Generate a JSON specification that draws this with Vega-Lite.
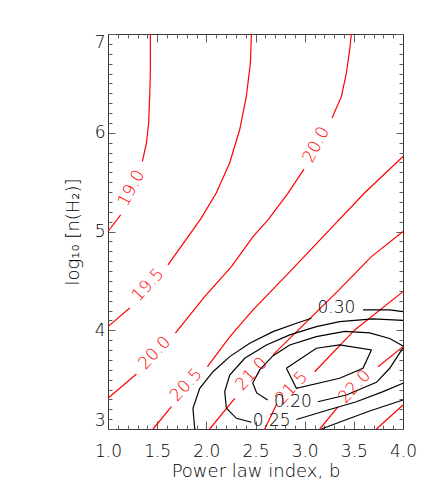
{
  "$schema": "https://vega.github.io/schema/vega-lite/v6.json",
  "width": 295,
  "height": 395,
  "autosize": {"type": "none"},
  "padding": {"left": 108, "top": 34, "right": 33, "bottom": 69},
  "config": {
    "view": {"stroke": null},
    "font": "DejaVu Sans",
    "axis": {
      "grid": false,
      "domainColor": "#383838",
      "domainWidth": 1,
      "tickColor": "#606060",
      "tickWidth": 1,
      "labelColor": "#000000",
      "titleColor": "#000000",
      "labelFont": "DejaVu Sans",
      "titleFont": "DejaVu Sans",
      "labelFontSize": 17,
      "labelFontWeight": 200,
      "titleFontSize": 18,
      "titleFontWeight": 200,
      "labelOverlap": false
    }
  },
  "datasets": {
    "nh": [
      {"level": "19.0", "seg": "19.0a", "i": 0, "b": 1.431, "logn": 7.0},
      {"level": "19.0", "seg": "19.0a", "i": 1, "b": 1.431, "logn": 6.709},
      {"level": "19.0", "seg": "19.0a", "i": 2, "b": 1.429, "logn": 6.537},
      {"level": "19.0", "seg": "19.0a", "i": 3, "b": 1.424, "logn": 6.368},
      {"level": "19.0", "seg": "19.0a", "i": 4, "b": 1.414, "logn": 6.101},
      {"level": "19.0", "seg": "19.0a", "i": 5, "b": 1.391, "logn": 5.898},
      {"level": "19.0", "seg": "19.0a", "i": 6, "b": 1.350, "logn": 5.709},
      {"level": "19.0", "seg": "19.0b", "i": 0, "b": 1.129, "logn": 5.169},
      {"level": "19.0", "seg": "19.0b", "i": 1, "b": 1.0, "logn": 5.0},
      {"level": "19.5", "seg": "19.5a", "i": 0, "b": 2.458, "logn": 7.0},
      {"level": "19.5", "seg": "19.5a", "i": 1, "b": 2.448, "logn": 6.706},
      {"level": "19.5", "seg": "19.5a", "i": 2, "b": 2.407, "logn": 6.368},
      {"level": "19.5", "seg": "19.5a", "i": 3, "b": 2.339, "logn": 6.030},
      {"level": "19.5", "seg": "19.5a", "i": 4, "b": 2.238, "logn": 5.696},
      {"level": "19.5", "seg": "19.5a", "i": 5, "b": 2.102, "logn": 5.392},
      {"level": "19.5", "seg": "19.5a", "i": 6, "b": 1.950, "logn": 5.138},
      {"level": "19.5", "seg": "19.5a", "i": 7, "b": 1.864, "logn": 5.017},
      {"level": "19.5", "seg": "19.5a", "i": 8, "b": 1.610, "logn": 4.662},
      {"level": "19.5", "seg": "19.5b", "i": 0, "b": 1.221, "logn": 4.226},
      {"level": "19.5", "seg": "19.5b", "i": 1, "b": 1.0, "logn": 4.037},
      {"level": "20.0", "seg": "20.0a", "i": 0, "b": 3.475, "logn": 7.0},
      {"level": "20.0", "seg": "20.0a", "i": 1, "b": 3.458, "logn": 6.841},
      {"level": "20.0", "seg": "20.0a", "i": 2, "b": 3.424, "logn": 6.605},
      {"level": "20.0", "seg": "20.0a", "i": 3, "b": 3.374, "logn": 6.368},
      {"level": "20.0", "seg": "20.0a", "i": 4, "b": 3.278, "logn": 6.149},
      {"level": "20.0", "seg": "20.0b", "i": 0, "b": 2.993, "logn": 5.632},
      {"level": "20.0", "seg": "20.0b", "i": 1, "b": 2.831, "logn": 5.389},
      {"level": "20.0", "seg": "20.0b", "i": 2, "b": 2.627, "logn": 5.118},
      {"level": "20.0", "seg": "20.0b", "i": 3, "b": 2.475, "logn": 4.949},
      {"level": "20.0", "seg": "20.0b", "i": 4, "b": 2.255, "logn": 4.645},
      {"level": "20.0", "seg": "20.0b", "i": 5, "b": 1.983, "logn": 4.341},
      {"level": "20.0", "seg": "20.0b", "i": 6, "b": 1.685, "logn": 3.970},
      {"level": "20.0", "seg": "20.0c", "i": 0, "b": 1.289, "logn": 3.557},
      {"level": "20.0", "seg": "20.0c", "i": 1, "b": 1.0, "logn": 3.311},
      {"level": "20.5", "seg": "20.5a", "i": 0, "b": 4.0, "logn": 5.760},
      {"level": "20.5", "seg": "20.5a", "i": 1, "b": 3.611, "logn": 5.392},
      {"level": "20.5", "seg": "20.5a", "i": 2, "b": 3.221, "logn": 4.983},
      {"level": "20.5", "seg": "20.5a", "i": 3, "b": 2.848, "logn": 4.591},
      {"level": "20.5", "seg": "20.5a", "i": 4, "b": 2.475, "logn": 4.206},
      {"level": "20.5", "seg": "20.5a", "i": 5, "b": 2.238, "logn": 3.932},
      {"level": "20.5", "seg": "20.5a", "i": 6, "b": 2.011, "logn": 3.631},
      {"level": "20.5", "seg": "20.5b", "i": 0, "b": 1.645, "logn": 3.226},
      {"level": "20.5", "seg": "20.5b", "i": 1, "b": 1.458, "logn": 3.0},
      {"level": "21.0", "seg": "21.0a", "i": 0, "b": 4.0, "logn": 5.0},
      {"level": "21.0", "seg": "21.0a", "i": 1, "b": 3.679, "logn": 4.746},
      {"level": "21.0", "seg": "21.0a", "i": 2, "b": 3.339, "logn": 4.398},
      {"level": "21.0", "seg": "21.0a", "i": 3, "b": 2.678, "logn": 3.750},
      {"level": "21.0", "seg": "21.0b", "i": 0, "b": 2.289, "logn": 3.311},
      {"level": "21.0", "seg": "21.0b", "i": 1, "b": 2.034, "logn": 3.0},
      {"level": "21.5", "seg": "21.5a", "i": 0, "b": 4.0, "logn": 4.391},
      {"level": "21.5", "seg": "21.5a", "i": 1, "b": 3.509, "logn": 4.003},
      {"level": "21.5", "seg": "21.5a", "i": 2, "b": 3.102, "logn": 3.580},
      {"level": "21.5", "seg": "21.5b", "i": 0, "b": 2.716, "logn": 3.253},
      {"level": "21.5", "seg": "21.5b", "i": 1, "b": 2.594, "logn": 3.0},
      {"level": "22.0", "seg": "22.0a", "i": 0, "b": 4.0, "logn": 3.834},
      {"level": "22.0", "seg": "22.0a", "i": 1, "b": 3.746, "logn": 3.631},
      {"level": "22.0", "seg": "22.0b", "i": 0, "b": 3.339, "logn": 3.223},
      {"level": "22.0", "seg": "22.0b", "i": 1, "b": 3.153, "logn": 3.0},
      {"level": "22.5", "seg": "22.5a", "i": 0, "b": 4.0, "logn": 3.243},
      {"level": "22.5", "seg": "22.5a", "i": 1, "b": 3.730, "logn": 3.0}
    ],
    "ratio": [
      {"level": "0.30", "seg": "0.30a", "i": 0, "b": 1.882, "logn": 3.0},
      {"level": "0.30", "seg": "0.30a", "i": 1, "b": 1.864, "logn": 3.210},
      {"level": "0.30", "seg": "0.30a", "i": 2, "b": 1.933, "logn": 3.412},
      {"level": "0.30", "seg": "0.30a", "i": 3, "b": 2.068, "logn": 3.580},
      {"level": "0.30", "seg": "0.30a", "i": 4, "b": 2.238, "logn": 3.733},
      {"level": "0.30", "seg": "0.30a", "i": 5, "b": 2.441, "logn": 3.868},
      {"level": "0.30", "seg": "0.30a", "i": 6, "b": 2.678, "logn": 3.986},
      {"level": "0.30", "seg": "0.30a", "i": 7, "b": 2.916, "logn": 4.071},
      {"level": "0.30", "seg": "0.30a", "i": 8, "b": 3.069, "logn": 4.122},
      {"level": "0.30", "seg": "0.30b", "i": 0, "b": 3.593, "logn": 4.206},
      {"level": "0.30", "seg": "0.30b", "i": 1, "b": 3.865, "logn": 4.206},
      {"level": "0.30", "seg": "0.30b", "i": 2, "b": 4.0, "logn": 4.189},
      {"level": "0.30", "seg": "0.30c", "i": 0, "b": 3.170, "logn": 3.0},
      {"level": "0.30", "seg": "0.30c", "i": 1, "b": 3.407, "logn": 3.089},
      {"level": "0.30", "seg": "0.30c", "i": 2, "b": 3.661, "logn": 3.182},
      {"level": "0.30", "seg": "0.30c", "i": 3, "b": 4.0, "logn": 3.294},
      {"level": "0.25", "seg": "0.25a", "i": 0, "b": 4.0, "logn": 4.099},
      {"level": "0.25", "seg": "0.25a", "i": 1, "b": 3.695, "logn": 4.115},
      {"level": "0.25", "seg": "0.25a", "i": 2, "b": 3.356, "logn": 4.087},
      {"level": "0.25", "seg": "0.25a", "i": 3, "b": 3.119, "logn": 4.037},
      {"level": "0.25", "seg": "0.25a", "i": 4, "b": 2.848, "logn": 3.953},
      {"level": "0.25", "seg": "0.25a", "i": 5, "b": 2.611, "logn": 3.851},
      {"level": "0.25", "seg": "0.25a", "i": 6, "b": 2.390, "logn": 3.716},
      {"level": "0.25", "seg": "0.25a", "i": 7, "b": 2.238, "logn": 3.547},
      {"level": "0.25", "seg": "0.25a", "i": 8, "b": 2.187, "logn": 3.378},
      {"level": "0.25", "seg": "0.25a", "i": 9, "b": 2.204, "logn": 3.210},
      {"level": "0.25", "seg": "0.25a", "i": 10, "b": 2.306, "logn": 3.108},
      {"level": "0.25", "seg": "0.25a", "i": 11, "b": 2.458, "logn": 3.068},
      {"level": "0.25", "seg": "0.25b", "i": 0, "b": 2.916, "logn": 3.096},
      {"level": "0.25", "seg": "0.25b", "i": 1, "b": 3.187, "logn": 3.177},
      {"level": "0.25", "seg": "0.25b", "i": 2, "b": 3.526, "logn": 3.276},
      {"level": "0.25", "seg": "0.25b", "i": 3, "b": 3.797, "logn": 3.378},
      {"level": "0.25", "seg": "0.25b", "i": 4, "b": 4.0, "logn": 3.463},
      {"level": "0.20", "seg": "0.20a", "i": 0, "b": 4.0, "logn": 3.841},
      {"level": "0.20", "seg": "0.20a", "i": 1, "b": 3.865, "logn": 3.917},
      {"level": "0.20", "seg": "0.20a", "i": 2, "b": 3.661, "logn": 3.973},
      {"level": "0.20", "seg": "0.20a", "i": 3, "b": 3.407, "logn": 3.988},
      {"level": "0.20", "seg": "0.20a", "i": 4, "b": 3.119, "logn": 3.935},
      {"level": "0.20", "seg": "0.20a", "i": 5, "b": 2.848, "logn": 3.851},
      {"level": "0.20", "seg": "0.20a", "i": 6, "b": 2.676, "logn": 3.740},
      {"level": "0.20", "seg": "0.20a", "i": 7, "b": 2.543, "logn": 3.598},
      {"level": "0.20", "seg": "0.20a", "i": 8, "b": 2.472, "logn": 3.466},
      {"level": "0.20", "seg": "0.20a", "i": 9, "b": 2.512, "logn": 3.365},
      {"level": "0.20", "seg": "0.20a", "i": 10, "b": 2.624, "logn": 3.294},
      {"level": "0.20", "seg": "0.20b", "i": 0, "b": 3.133, "logn": 3.276},
      {"level": "0.20", "seg": "0.20b", "i": 1, "b": 3.424, "logn": 3.344},
      {"level": "0.20", "seg": "0.20b", "i": 2, "b": 3.730, "logn": 3.473},
      {"level": "0.20", "seg": "0.20b", "i": 3, "b": 3.865, "logn": 3.615},
      {"level": "0.20", "seg": "0.20b", "i": 4, "b": 4.0, "logn": 3.821},
      {"level": "0.15", "seg": "0.15a", "i": 0, "b": 2.814, "logn": 3.615},
      {"level": "0.15", "seg": "0.15a", "i": 1, "b": 3.119, "logn": 3.818},
      {"level": "0.15", "seg": "0.15a", "i": 2, "b": 3.356, "logn": 3.851},
      {"level": "0.15", "seg": "0.15a", "i": 3, "b": 3.679, "logn": 3.800},
      {"level": "0.15", "seg": "0.15a", "i": 4, "b": 3.593, "logn": 3.615},
      {"level": "0.15", "seg": "0.15a", "i": 5, "b": 3.356, "logn": 3.514},
      {"level": "0.15", "seg": "0.15a", "i": 6, "b": 2.916, "logn": 3.412},
      {"level": "0.15", "seg": "0.15a", "i": 7, "b": 2.814, "logn": 3.615}
    ],
    "nh_labels_steep": [
      {"level": "19.0", "b": 1.238, "logn": 5.439},
      {"level": "20.0", "b": 3.119, "logn": 5.878}
    ],
    "nh_labels_diag": [
      {"level": "19.5", "b": 1.407, "logn": 4.459},
      {"level": "20.0", "b": 1.475, "logn": 3.770},
      {"level": "20.5", "b": 1.797, "logn": 3.446},
      {"level": "21.0", "b": 2.461, "logn": 3.557},
      {"level": "21.5", "b": 2.868, "logn": 3.415},
      {"level": "22.0", "b": 3.509, "logn": 3.429}
    ],
    "ratio_labels": [
      {"level": "0.30", "b": 3.323, "logn": 4.223},
      {"level": "0.20", "b": 2.881, "logn": 3.270},
      {"level": "0.25", "b": 2.665, "logn": 3.081}
    ]
  },
  "layer": [
    {
      "data": {"name": "nh"},
      "mark": {"type": "line", "color": "#ff0000", "strokeWidth": 1.2},
      "encoding": {
        "x": {"field": "b", "type": "quantitative", "scale": {"domain": [1, 4], "nice": false, "zero": false},
          "axis": {"orient": "bottom", "values": [1, 1.5, 2, 2.5, 3, 3.5, 4], "format": ".1f", "tickSize": -8, "labelPadding": 22, "labelFlush": false, "title": "Power law index, b", "titlePadding": 3, "domain": true}},
        "y": {"field": "logn", "type": "quantitative", "scale": {"domain": [3, 7], "nice": false, "zero": false},
          "axis": {"orient": "left", "values": [3, 4, 5, 6, 7], "format": "d", "tickSize": -7, "labelPadding": 10, "labelFlush": true, "title": "log₁₀ [n(H₂)]", "titlePadding": 12, "domain": true}},
        "detail": {"field": "seg"},
        "order": {"field": "i", "type": "quantitative"}
      }
    },
    {
      "data": {"name": "ratio"},
      "mark": {"type": "line", "color": "#000000", "strokeWidth": 1.2},
      "encoding": {
        "x": {"field": "b", "type": "quantitative", "scale": {"domain": [1, 4], "nice": false, "zero": false},
          "axis": {"orient": "top", "values": [1, 1.5, 2, 2.5, 3, 3.5, 4], "labels": false, "tickSize": -8, "title": null, "domain": true}},
        "y": {"field": "logn", "type": "quantitative", "scale": {"domain": [3, 7], "nice": false, "zero": false},
          "axis": {"orient": "right", "values": [3, 4, 5, 6, 7], "labels": false, "tickSize": -7, "title": null, "domain": true}},
        "detail": {"field": "seg"},
        "order": {"field": "i", "type": "quantitative"}
      }
    },
    {
      "data": {"name": "nh_labels_steep"},
      "mark": {"type": "text", "color": "#ff0000", "font": "DejaVu Sans", "fontSize": 17, "fontWeight": 200, "angle": -62, "align": "center", "baseline": "middle"},
      "encoding": {
        "x": {"field": "b", "type": "quantitative", "scale": {"domain": [1, 4], "nice": false, "zero": false},
          "axis": {"orient": "bottom", "values": [1.1,1.2,1.3,1.4,1.6,1.7,1.8,1.9,2.1,2.2,2.3,2.4,2.6,2.7,2.8,2.9,3.1,3.2,3.3,3.4,3.6,3.7,3.8,3.9], "labels": false, "domain": false, "tickSize": -4, "title": null}},
        "y": {"field": "logn", "type": "quantitative", "scale": {"domain": [3, 7], "nice": false, "zero": false},
          "axis": {"orient": "left", "values": [3.1,3.2,3.3,3.4,3.5,3.6,3.7,3.8,3.9,4.1,4.2,4.3,4.4,4.5,4.6,4.7,4.8,4.9,5.1,5.2,5.3,5.4,5.5,5.6,5.7,5.8,5.9,6.1,6.2,6.3,6.4,6.5,6.6,6.7,6.8,6.9], "labels": false, "domain": false, "tickSize": -4, "title": null}},
        "text": {"field": "level"}
      }
    },
    {
      "data": {"name": "nh_labels_diag"},
      "mark": {"type": "text", "color": "#ff0000", "font": "DejaVu Sans", "fontSize": 17, "fontWeight": 200, "angle": -47, "align": "center", "baseline": "middle"},
      "encoding": {
        "x": {"field": "b", "type": "quantitative", "scale": {"domain": [1, 4], "nice": false, "zero": false},
          "axis": {"orient": "top", "values": [1.1,1.2,1.3,1.4,1.6,1.7,1.8,1.9,2.1,2.2,2.3,2.4,2.6,2.7,2.8,2.9,3.1,3.2,3.3,3.4,3.6,3.7,3.8,3.9], "labels": false, "domain": false, "tickSize": -4, "title": null}},
        "y": {"field": "logn", "type": "quantitative", "scale": {"domain": [3, 7], "nice": false, "zero": false},
          "axis": {"orient": "right", "values": [3.1,3.2,3.3,3.4,3.5,3.6,3.7,3.8,3.9,4.1,4.2,4.3,4.4,4.5,4.6,4.7,4.8,4.9,5.1,5.2,5.3,5.4,5.5,5.6,5.7,5.8,5.9,6.1,6.2,6.3,6.4,6.5,6.6,6.7,6.8,6.9], "labels": false, "domain": false, "tickSize": -4, "title": null}},
        "text": {"field": "level"}
      }
    },
    {
      "data": {"name": "ratio_labels"},
      "mark": {"type": "text", "color": "#000000", "font": "DejaVu Sans", "fontSize": 17, "fontWeight": 200, "align": "center", "baseline": "middle"},
      "encoding": {
        "x": {"field": "b", "type": "quantitative", "scale": {"domain": [1, 4], "nice": false, "zero": false}, "axis": null},
        "y": {"field": "logn", "type": "quantitative", "scale": {"domain": [3, 7], "nice": false, "zero": false}, "axis": null},
        "text": {"field": "level"}
      }
    }
  ],
  "resolve": {"axis": {"x": "independent", "y": "independent"}}
}
